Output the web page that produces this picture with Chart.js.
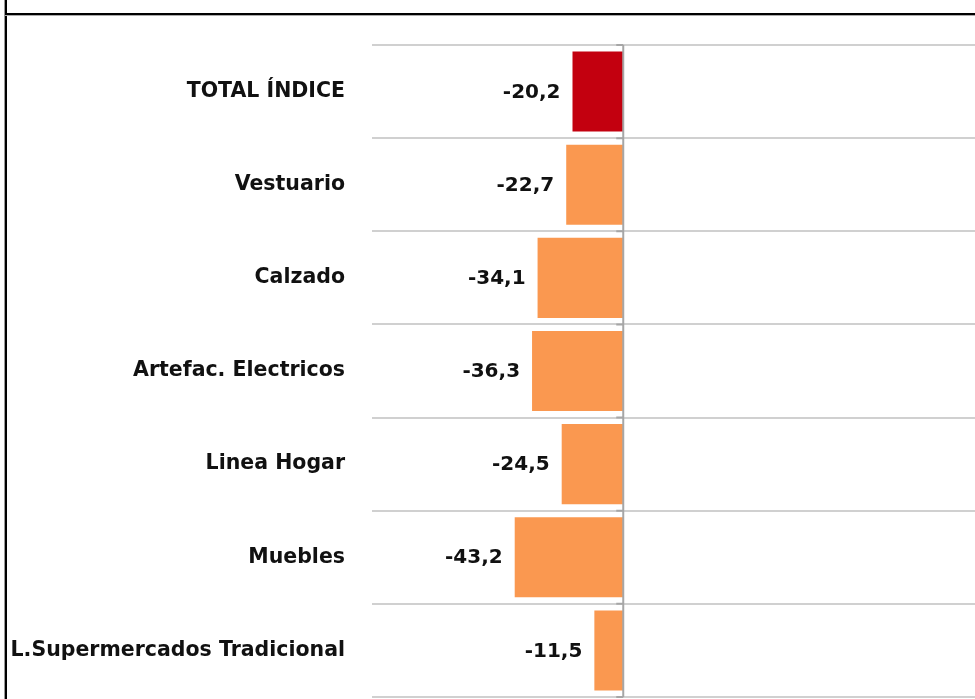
<!DOCTYPE html>
<html><head><meta charset="utf-8">
<script src="https://cdn.jsdelivr.net/npm/chart.js@4/dist/chart.umd.min.js"></script>
<style>
html,body{margin:0;padding:0;background:#fff;overflow:hidden;}
#wrap{position:relative;width:975px;height:699px;}
canvas{position:absolute;left:0;top:0;}
.vl{position:absolute;left:5px;top:0;width:2px;height:699px;background:#000;box-shadow:-1px 0 0 #999;}
.hl{position:absolute;left:5px;top:13px;width:970px;height:2px;background:#000;box-shadow:0 1px 0 #aaa;}
</style></head><body>
<div id="wrap"><canvas id="c" width="975" height="699"></canvas><div class="vl"></div><div class="hl"></div></div>
<script>
const categories = ['TOTAL ÍNDICE','Vestuario','Calzado','Artefac. Electricos','Linea Hogar','Muebles','L.Supermercados Tradicional'];
const values = [-20.2,-22.7,-34.1,-36.3,-24.5,-43.2,-11.5];
const xMin = -100, xMax = 140;

const FONT = '"DejaVu Sans", sans-serif';

const labelPlugin = {
  id: 'valueLabels',
  afterDatasetsDraw(chart) {
    const ctx = chart.ctx;
    const xs = chart.scales.x, ys = chart.scales.y;
    const x0 = xs.getPixelForValue(0);
    ctx.save();
    ctx.strokeStyle = '#A6A6A6';
    ctx.lineWidth = 2;
    ctx.beginPath();
    ctx.moveTo(x0, chart.chartArea.top);
    ctx.lineTo(x0, chart.chartArea.bottom);
    const n = categories.length;
    const band = (chart.chartArea.bottom - chart.chartArea.top) / n;
    for (let i = 0; i <= n; i++) {
      const y = i < n ? ys.getPixelForTick(i) - band / 2 : ys.getPixelForTick(n - 1) + band / 2;
      ctx.moveTo(x0 - 7, y);
      ctx.lineTo(x0, y);
    }
    ctx.stroke();
    ctx.fillStyle = '#111';
    ctx.font = 'bold 20px ' + FONT;
    ctx.textAlign = 'right';
    ctx.textBaseline = 'middle';
    chart.getDatasetMeta(0).data.forEach((el, i) => {
      const t = values[i].toFixed(1).replace('.', ',');
      ctx.fillText(t, el.x - 12, el.y + 1);
    });
    ctx.restore();
  }
};

new Chart(document.getElementById('c'), {
  type: 'bar',
  data: {
    labels: categories,
    datasets: [{
      data: values,
      backgroundColor: ctx => ctx.dataIndex === 0 ? '#C3000F' : '#FA9850',
      borderWidth: 0,
      categoryPercentage: 1,
      barPercentage: 0.86
    }]
  },
  options: {
    indexAxis: 'y',
    responsive: false,
    animation: false,
    devicePixelRatio: 1,
    layout: { padding: { top: 45, bottom: 2, left: 0, right: 0 } },
    plugins: { legend: { display: false }, tooltip: { enabled: false } },
    scales: {
      x: {
        display: false,
        min: xMin, max: xMax
      },
      y: {
        ticks: { color: '#111', padding: 27, font: { family: FONT, size: 20.5, weight: 'bold' } },
        grid: { color: '#D0D0D0', lineWidth: 2, drawTicks: false, offset: true },
        border: { display: false },
        afterFit(s) { s.width = 372; s.paddingTop = 0; s.paddingBottom = 0; }
      }
    }
  },
  plugins: [labelPlugin]
});
</script>
</body></html>
